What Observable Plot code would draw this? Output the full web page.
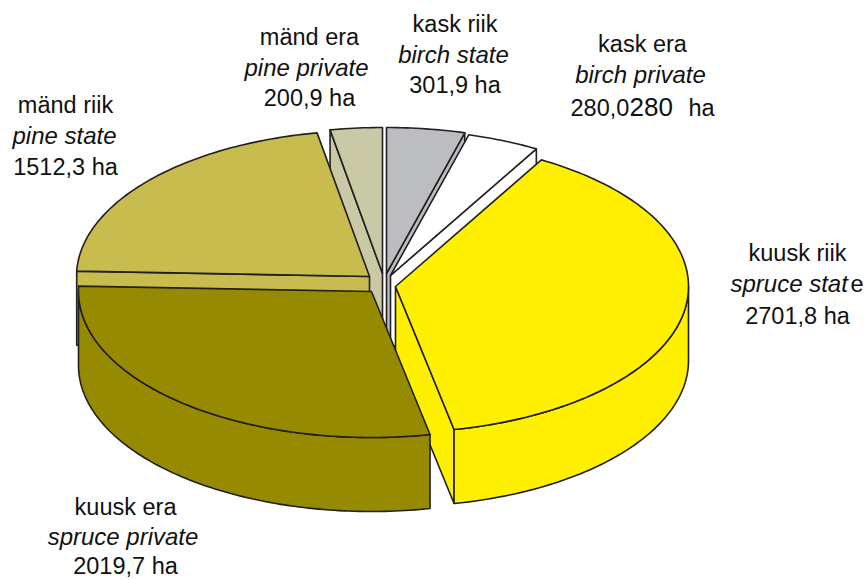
<!DOCTYPE html>
<html>
<head>
<meta charset="utf-8">
<style>html,body{margin:0;padding:0;background:#fff}svg{display:block}</style>
<script src="https://cdn.jsdelivr.net/npm/d3@7"></script>
<script src="https://cdn.jsdelivr.net/npm/@observablehq/plot@0.6"></script>
</head>
<body>
<script>
// Data, clockwise from the top of the pie
const namesEt = ["kask riik", "kask era", "kuusk riik", "kuusk era", "mänd riik", "mänd era"];
const namesEn = ["birch state", "birch private", "spruce state", "spruce private", "pine state", "pine private"];
const areas = [301.9, 280.0, 2701.8, 2019.7, 1512.3, 200.9];
const colors = ["#bcbdc0", "#ffffff", "#fff000", "#968a00", "#c8bc4e", "#c9c9a5"];

// Layout
const centerX = [386, 390, 395, 371, 369, 382];
const centerY = [273, 275, 286, 291, 276, 273];
const rx = 293, ry = 146, depth = 74;
const drawOrder = [0, 1, 5, 4, 2, 3];
const ink = "#231f20";
const font = "Liberation Sans";
const fs = 23.5, fsItalic = 24;

const total = d3.sum(areas);
const cum = [0, ...d3.cumsum(areas)].map(v => v / total * 2 * Math.PI);
const pt = (i, t, d = 0) => ({x: centerX[i] + rx * Math.sin(t), y: centerY[i] - ry * Math.cos(t) + d});
const arc = (i, a, b, d = 0) => {
  const n = Math.max(2, Math.ceil((b - a) / (Math.PI / 180)));
  return d3.range(n + 1).map(k => pt(i, a + (b - a) * k / n, d));
};
const poly = (pts, fill) => Plot.line(pts, {
  x: "x", y: "y", fill, stroke: ink, strokeWidth: 1.6,
  curve: "linear-closed", strokeLinejoin: "round"
});

const marks = [];
for (const i of drawOrder) {
  const t0 = cum[i], t1 = cum[i + 1], c = colors[i];
  const apex = {x: centerX[i], y: centerY[i]}, apexB = {x: centerX[i], y: centerY[i] + depth};
  if (Math.sin(t0) < 0) marks.push(poly([apex, pt(i, t0), pt(i, t0, depth), apexB], c));
  if (Math.sin(t1) > 0) marks.push(poly([apex, pt(i, t1), pt(i, t1, depth), apexB], c));
  const w0 = Math.max(t0, Math.PI / 2), w1 = Math.min(t1, 3 * Math.PI / 2);
  if (w1 > w0) marks.push(poly([...arc(i, w0, w1), ...arc(i, w0, w1, depth).reverse()], c));
  marks.push(poly([apex, ...arc(i, t0, t1)], c));
}

const fmt = v => v.toFixed(1).replace(".", ",") + " ha";
const labelX = [454.5, 642, 797, 125, 65, 309];
const italicX = [453, 640, 0, 122.5, 64, 306];
const labelY = [24, 44, 253, 507, 105, 37];
const labelGap = [30.5, 31, 31.5, 29.5, 31, 30.5];
const rows = [];
namesEt.forEach((s, i) => {
  const y = labelY[i], g = labelGap[i];
  rows.push({x: labelX[i], y, text: s, style: "normal", size: fs, anchor: "middle"});
  if (i !== 2) rows.push({x: italicX[i], y: y + g, text: namesEn[i], style: "italic", size: fsItalic, anchor: "middle"});
  if (i !== 1) rows.push({x: labelX[i], y: y + 2 * g, text: fmt(areas[i]), style: "normal", size: fs, anchor: "middle"});
});
// Mixed runs as printed in the original
rows.push({x: 730, y: 284, text: "spruce stat", style: "italic", size: fsItalic, anchor: "start"});
rows.push({x: 850, y: 284, text: "e", style: "normal", size: fs, anchor: "start"});
rows.push({x: 570, y: 108, text: "280,0", style: "normal", size: fs, anchor: "start"});
rows.push({x: 629, y: 107, text: "280", style: "normal", size: 26, anchor: "start"});
rows.push({x: 688, y: 108, text: "ha", style: "normal", size: fs, anchor: "start"});

for (const anchor of ["middle", "start"]) {
  for (const style of ["normal", "italic"]) {
    for (const size of [fs, fsItalic, 26]) {
      const sub = rows.filter(r => r.anchor === anchor && r.style === style && r.size === size);
      if (sub.length) marks.push(Plot.text(sub, {
        x: "x", y: "y", text: "text", textAnchor: anchor, lineAnchor: "middle",
        fontStyle: style, fontSize: size, fontFamily: font, fill: "#111"
      }));
    }
  }
}

const chart = Plot.plot({
  width: 866, height: 580, margin: 0,
  x: {domain: [0, 866], range: [0, 866], axis: null},
  y: {domain: [0, 580], range: [0, 580], axis: null},
  style: {background: "#fff"},
  marks
});
document.body.appendChild(chart);
</script>
</body>
</html>
